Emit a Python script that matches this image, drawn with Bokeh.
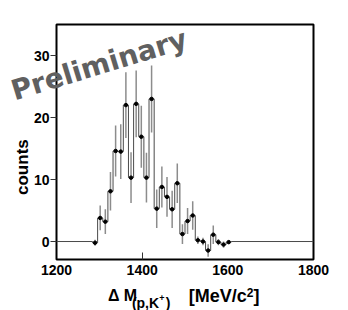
from bokeh.plotting import figure
from bokeh.models import FixedTicker, Range1d
from bokeh.core.properties import value
from bokeh.embed import file_html
from bokeh.resources import INLINE

# bin centres [MeV/c^2], 12 MeV wide bins
bin_centers = [1290, 1302, 1314, 1326, 1338, 1350, 1362, 1374, 1386, 1398,
               1410, 1422, 1434, 1446, 1458, 1470, 1482, 1494, 1506, 1518,
               1530, 1542, 1554, 1566, 1578, 1590, 1602]
counts = [-0.2, 3.8, 3.2, 8.1, 14.6, 14.5, 22.0, 10.3, 22.2, 16.9,
          10.3, 23.0, 5.3, 8.8, 7.2, 5.2, 9.4, 1.2, 3.3, 4.2,
          0.2, 0.0, -1.45, 1.1, -0.1, -0.5, -0.1]
errors = [0.5, 2.0, 2.0, 3.1, 4.1, 4.4, 5.3, 4.1, 5.4, 5.0,
          4.0, 5.4, 3.1, 3.3, 3.2, 3.0, 3.2, 1.6, 2.1, 2.3,
          0.6, 0.6, 1.0, 1.5, 0.5, 0.5, 0.3]
bin_width = 12
x_ticks = [1200, 1400, 1600, 1800]
y_ticks = [0, 10, 20, 30]
x_lo, x_hi = 1200, 1800

FONT = "Liberation Sans"

p = figure(width=348, height=310, output_backend="svg", toolbar_location=None,
           x_range=Range1d(x_lo, x_hi), y_range=Range1d(-2.9, 35.0),
           min_border_left=56, min_border_right=35, min_border_top=24,
           min_border_bottom=51)
p.grid.visible = False
p.outline_line_color = "black"
p.outline_line_width = 2
p.background_fill_color = "white"
p.border_fill_color = "white"

# x axis
p.xaxis.ticker = FixedTicker(ticks=x_ticks, minor_ticks=[1400])
p.xaxis.axis_line_color = None
p.xaxis.major_tick_in = 0
p.xaxis.major_tick_out = 0
p.xaxis.minor_tick_in = 7
p.xaxis.minor_tick_out = 0
p.xaxis.minor_tick_line_color = "#333333"
p.xaxis.major_label_standoff = 5
p.xaxis.major_label_text_font = FONT
p.xaxis.major_label_text_font_style = "bold"
p.xaxis.major_label_text_font_size = "14px"
p.xaxis.major_label_text_color = "black"

# y axis
p.yaxis.ticker = FixedTicker(ticks=y_ticks)
p.yaxis.axis_line_color = None
p.yaxis.major_tick_in = 0
p.yaxis.major_tick_out = 6
p.yaxis.major_tick_line_color = "#333333"
p.yaxis.minor_tick_line_color = None
p.yaxis.major_label_standoff = 1
p.yaxis.major_label_text_font = FONT
p.yaxis.major_label_text_font_style = "bold"
p.yaxis.major_label_text_font_size = "14px"
p.yaxis.major_label_text_color = "black"

# histogram outline (steps), with flat zero line outside the filled bins
half = bin_width / 2
edges = [c - half for c in bin_centers] + [bin_centers[-1] + half]
step_x = [x_lo] + edges + [x_hi]
step_y = [0] + counts + [0, 0]
p.step(step_x, step_y, mode="after", line_color="#4a4a4a", line_width=1)

# error bars
p.segment(x0=bin_centers, y0=[c - e for c, e in zip(counts, errors)],
          x1=bin_centers, y1=[c + e for c, e in zip(counts, errors)],
          line_color="#8c8c8c", line_width=1.5)

# data points
p.scatter(bin_centers, counts, size=3.5, color="black")

# watermark
p.text(x=[1096], y=[24.2], text=["Preliminary"], angle=17, angle_units="deg",
       text_font=value("DejaVu Sans"), text_font_style="bold",
       text_font_size="28px", text_color="#606060",
       text_align="left", text_baseline="alphabetic", level="overlay")

# y axis title
p.text(x=[1120], y=[12.0], text=["counts"], angle=90, angle_units="deg",
       text_font=value(FONT), text_font_style="bold", text_font_size="17px",
       text_color="black", text_align="center", text_baseline="alphabetic",
       level="overlay")

# x axis title pieces
def lab(x, y, t, size):
    p.text(x=[x], y=[y], text=[t], text_font=value(FONT), text_font_style="bold",
           text_font_size=size, text_color="black",
           text_align="left", text_baseline="alphabetic", level="overlay")

lab(1320, -8.72, "\u0394 M", "16px")
lab(1376, -9.85, "(p,K", "14px")
lab(1440, -9.13, "+", "9px")
lab(1455, -9.85, ")", "14px")
lab(1509, -8.72, "[MeV/c", "18px")
lab(1644, -8.24, "2", "12px")
lab(1660, -8.72, "]", "18px")

open("out.html", "w").write(file_html(p, INLINE))
